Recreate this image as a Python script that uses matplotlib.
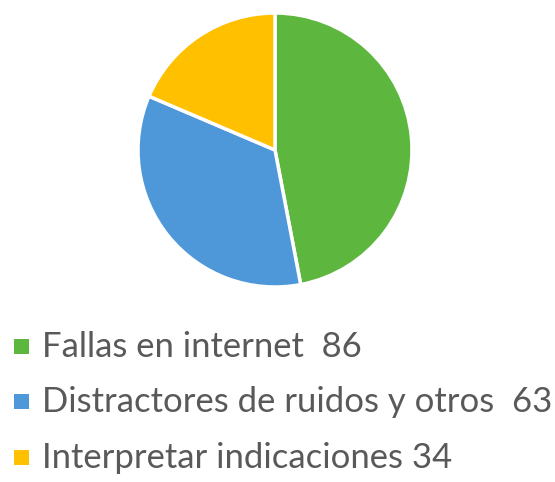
import matplotlib
matplotlib.use("Agg")
import matplotlib.pyplot as plt
from matplotlib.patches import Rectangle

categories = ["Fallas en internet  86", "Distractores de ruidos y otros  63", "Interpretar indicaciones 34"]
values = [86, 63, 34]
colors = ["#5DB63D", "#4E98DA", "#FFC000"]

W, H = 555, 482
fig = plt.figure(figsize=(W / 100, H / 100), dpi=100)
fig.patch.set_facecolor("white")

cx, cy, r = 275, 150, 137
ax = fig.add_axes([(cx - r) / W, (H - (cy + r)) / H, 2 * r / W, 2 * r / H])
ax.pie(values, colors=colors, startangle=90, counterclock=False,
       wedgeprops=dict(edgecolor="white", linewidth=2.5))
ax.set_xlim(-1, 1)
ax.set_ylim(-1, 1)
ax.set_aspect("equal")
ax.axis("off")

baselines = [357, 412, 468]
for lab, col, yb in zip(categories, colors, baselines):
    fig.patches.append(Rectangle((14 / W, (H - yb + 3) / H), 15 / W, 15 / H,
                                 transform=fig.transFigure, facecolor=col, edgecolor="none"))
    fig.text(42 / W, (H - yb) / H, lab, fontsize=24.9, color="#595959",
             family="Lato", va="baseline", ha="left")

fig.savefig("out.png", dpi=100)
